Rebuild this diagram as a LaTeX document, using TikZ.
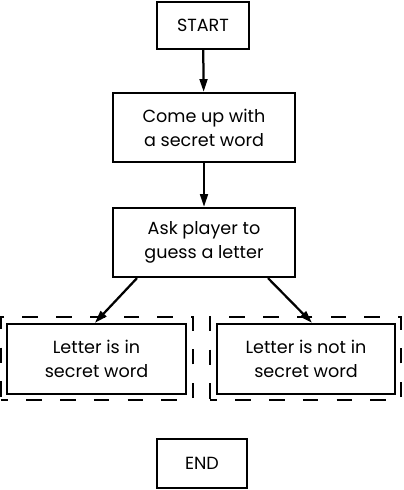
\documentclass[tikz,border=0pt]{standalone}
\usepackage{fontspec}
\setmainfont{Poppins}
\usetikzlibrary{arrows.meta, positioning}

\begin{document}
\begin{tikzpicture}[x=0.025cm, y=-0.025cm,
    every node/.style={font=\fontsize{12.5}{17}\selectfont},
    box/.style={draw, line width=1.6pt, align=center, inner sep=0pt},
    dashbox/.style={draw, line width=1.6pt, dash pattern=on 11pt off 13pt, dash phase=6pt},
    arr/.style={line width=1.6pt, -{Triangle[length=9pt, width=5.5pt]}}]
  \useasboundingbox (0,0) rectangle (403,490);

  % main column
  \node[box, minimum width=23mm, minimum height=11.75mm] (start) at (203,25.5) {START};
  \node[box, minimum width=45.5mm, minimum height=17.25mm] (secret) at (204,127.5)
       {Come up with\\a secret word};
  \node[box, minimum width=45.5mm, minimum height=17.25mm] (ask) at (204,242.5)
       {Ask player to\\guess a letter};

  % the two outcomes
  \node[dashbox, minimum width=48mm, minimum height=20.75mm] (inwordout) at (97,358.5) {};
  \node[box, minimum width=44.75mm, minimum height=17.5mm] (inword) at (96.5,359)
       {Letter is in\\secret word};
  \node[dashbox, minimum width=47.75mm, minimum height=20.75mm] (notinout) at (305.5,358.5) {};
  \node[box, minimum width=44.5mm, minimum height=17.5mm] (notin) at (306,359)
       {Letter is not in\\secret word};

  \node[box, minimum width=22.5mm, minimum height=12.25mm] (end) at (202,463.5) {END};

  \draw[arr] (start) -- (secret);
  \draw[arr] (secret) -- (ask);
  \draw[arr] ([xshift=-16.75mm]ask.south) -- ([xshift=-0.4mm]inword.north);
  \draw[arr] ([xshift=16mm]ask.south) -- ([xshift=1.5mm]notin.north);
\end{tikzpicture}
\end{document}
